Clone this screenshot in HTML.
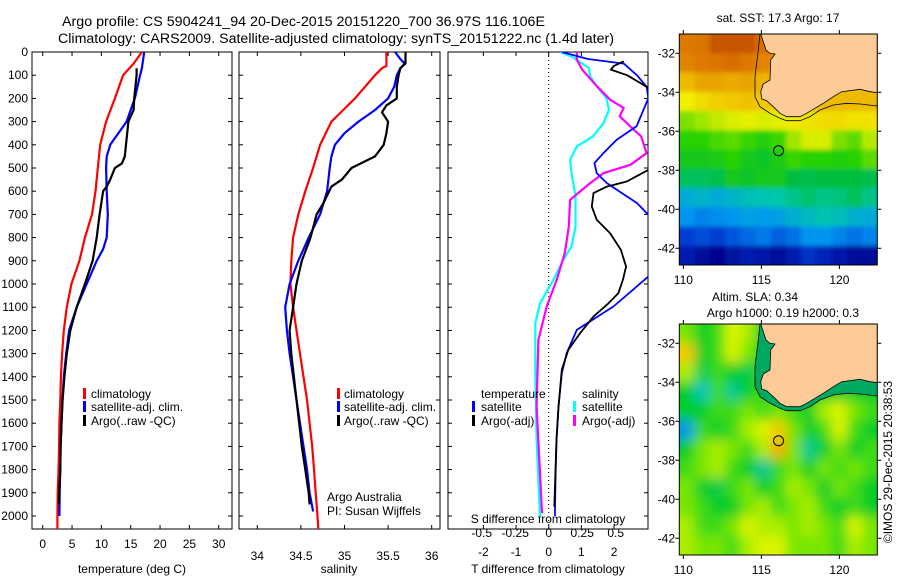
<!DOCTYPE html>
<html><head><meta charset="utf-8">
<style>
body{margin:0;background:#fff;}
svg{display:block;font-family:"Liberation Sans",sans-serif;}
text{fill:#000;}
</style></head>
<body>
<svg id="fig" width="900" height="580" viewBox="0 0 900 580" xmlns="http://www.w3.org/2000/svg">
<defs>
<filter id="blurS" x="-10%" y="-10%" width="120%" height="120%"><feGaussianBlur stdDeviation="2.5"/></filter>
<filter id="blurL" x="-10%" y="-10%" width="120%" height="120%"><feGaussianBlur stdDeviation="6"/></filter>
</defs>
<text x="62" y="26" font-size="13.5" textLength="483" lengthAdjust="spacingAndGlyphs">Argo profile: CS 5904241_94 20-Dec-2015 20151220_700 36.97S 116.106E</text>
<text x="58" y="43" font-size="13.5" textLength="556" lengthAdjust="spacingAndGlyphs">Climatology: CARS2009. Satellite-adjusted climatology: synTS_20151222.nc (1.4d later)</text>
<g id="g"></g>
</svg>
<script>
// ---------- data ----------
const tClimDepth=[0,50,100,200,300,400,500,600,700,800,900,1000,1100,1200,1300,1400,1500,1600,1700,1800,1900,2000,2056];
const tClim=[16.9,15.5,13.7,12.3,10.8,9.8,9.4,9.0,8.4,7.2,6.25,4.9,4.1,3.6,3.3,3.1,3.0,2.85,2.8,2.7,2.55,2.5,2.5];
const tSatDepth=[0,70,100,200,300,400,450,500,600,700,800,850,900,1000,1100,1200,1300,1400,1500,1600,1700,1800,1900,2000];
const tSat=[17.3,16.9,16.6,15.7,14.3,11.5,10.9,10.8,10.9,11.1,10.9,10.3,9.2,7.5,5.8,4.5,4.0,3.6,3.35,3.2,3.05,3.0,2.9,2.85];
const tArgoDepth=[70,100,200,250,300,400,450,480,500,550,580,600,700,800,900,1000,1100,1200,1300,1400,1500,1600,1700,1800,1900,1950];
const tArgo=[16.0,16.0,15.6,15.5,14.6,14.2,14.0,13.5,12.3,11.5,10.9,10.3,9.7,9.2,8.5,7.2,5.8,4.7,4.1,3.7,3.4,3.2,3.05,3.0,2.8,2.75];

const sClimDepth=[0,60,70,100,200,300,400,500,600,700,800,900,1000,1100,1200,1300,1400,1500,1600,1700,1800,1900,2000,2056];
const sClim=[35.48,35.48,35.43,35.35,35.12,34.85,34.72,34.64,34.55,34.47,34.41,34.39,34.38,34.41,34.45,34.49,34.53,34.57,34.6,34.63,34.65,34.67,34.69,34.7];
const sSatDepth=[0,30,50,70,100,150,200,250,300,350,400,450,500,600,700,800,900,1000,1100,1200,1300,1400,1500,1600,1700,1800,1900,1980];
const sSat=[35.58,35.64,35.69,35.64,35.6,35.57,35.5,35.35,35.16,35.0,34.89,34.85,34.83,34.8,34.72,34.59,34.47,34.37,34.32,34.34,34.37,34.41,34.45,34.49,34.53,34.57,34.6,34.64];
const sArgoDepth=[0,50,70,100,150,200,230,260,300,350,400,450,500,550,580,650,700,800,900,1000,1100,1200,1300,1400,1500,1600,1700,1800,1900,1950];
const sArgo=[35.7,35.7,35.64,35.62,35.6,35.6,35.48,35.43,35.5,35.48,35.45,35.35,35.08,34.97,34.85,34.76,34.68,34.61,34.51,34.45,34.41,34.37,34.39,34.42,34.45,34.48,34.51,34.55,34.59,34.6];

const dTSatDepth=[0,30,50,100,150,200,250,320,378,436,479,522,565,608,651,709,800,900,968,1097,1198,1298,1385,1529,1672,1816,2000];
const dTSat=[0.4,1.2,2.3,2.7,3.0,3.05,2.9,2.69,2.08,1.67,1.4,1.47,1.78,2.24,2.7,3.1,3.7,3.3,3.05,1.98,0.86,0.55,0.4,0.3,0.24,0.21,0.19];
const dTArgoDepth=[40,60,76,100,150,170,300,508,558,580,608,666,723,781,853,925,982,1040,1083,1140,1212,1284,1370,1529,1672,1960];
const dTArgo=[2.3,2.0,1.9,2.4,3.0,3.1,3.6,3.05,2.39,1.78,1.37,1.32,1.47,1.88,2.21,2.37,2.27,2.13,1.83,1.37,0.96,0.6,0.4,0.3,0.24,0.17];
const dSSatDepth=[0,19,69,105,148,198,249,306,364,407,464,522,623,752,838,896,982,1083,1169,1385,1672,2003];
const dSSat=[0.085,0.17,0.3,0.31,0.36,0.43,0.45,0.41,0.33,0.21,0.16,0.17,0.2,0.2,0.17,0.11,0.035,-0.065,-0.1,-0.1,-0.09,-0.065];
const dSArgoDepth=[0,33,76,148,206,241,277,321,364,436,486,522,565,637,752,867,982,1097,1241,1528,1816,1988];
const dSArgo=[0.21,0.21,0.25,0.36,0.46,0.56,0.53,0.61,0.69,0.73,0.61,0.41,0.31,0.16,0.15,0.12,0.06,-0.015,-0.077,-0.09,-0.065,-0.05];

const depthTicks=[0,100,200,300,400,500,600,700,800,900,1000,1100,1200,1300,1400,1500,1600,1700,1800,1900,2000];
const tTicks=[0,5,10,15,20,25,30];
const sTicks=[34,34.5,35,35.5,36];
const dTTicks=[-2,-1,0,1,2];
const dSTicks=[-0.5,-0.25,0,0.25,0.5];
const lonTicks=[110,115,120];
const latTicks=[-32,-34,-36,-38,-40,-42];

const sstGrid=[
[20.5,20.6,21,21,21,20.7,20,20,20,20,20,20,20],
[20.3,20.5,20.6,20.7,20.5,20.3,20,20,20,20,20,20,20],
[19.5,19.8,19.8,19.7,19.8,19.6,19.5,19.5,19.5,19.5,19.5,19.5,19.5],
[18.7,19,19.2,19.3,19.4,19.3,19.2,19.2,19.3,19.5,19.5,19.5,19.5],
[17.8,18,18.3,18.5,18.6,18.5,18.6,18.8,18.9,19,19,18.9,18.9],
[17.3,17.3,17.5,17.6,17.4,17.2,17.4,18,18.5,18.5,17.8,17.6,18.2],
[17,17,17.1,17.3,17,16.9,17.1,17.4,17.3,17.3,17.2,17.3,17.6],
[16.5,16.5,16.6,17,16.9,17,17,16.7,16.6,16.7,16.7,16.7,16.6],
[15.4,15.6,15.4,15.6,15.8,15.9,16,16.2,16.4,16.2,16.3,16.5,16.2],
[15,14.8,14.9,15,15.2,15.1,15.2,15.5,15.7,15.9,15.8,15.5,15.4],
[14,14.2,14,14.3,14.5,14.7,14.4,14.6,15,15,14.8,14.6,14.8],
[13.5,13.2,13.1,13.3,13.5,13.4,13.2,13.5,13.8,13.6,13.4,13.2,13.2]];
const slaGrid=[
[0.1,0,0.05,0.2,0.15,0,0,0,0,0,0,0,0],
[0.3,0,0.05,0.2,0.1,0.02,0,0,0,0,0,0,0],
[0.15,-0.05,0.05,0,-0.05,0.05,0.05,0,0,0,0,0,0],
[0,-0.2,0.05,-0.15,0,0.05,0,0.05,0,0,0,0,0],
[0,0,0.05,0.05,0.1,0.05,0.1,0.05,0,0.15,0.2,0.1,0.05],
[-0.3,0.05,0,0.05,0.15,0.2,0.3,0.1,0,0.05,0.2,0.05,0],
[0,0.1,0.15,0.1,0.05,0.15,0.34,0.1,-0.15,0,0.1,0,0.05],
[0.05,0.1,0.15,0.05,0,-0.15,0.05,0.1,0,0.1,0.05,0.1,0.05],
[0.1,0,-0.05,0.05,0.1,0,0.05,0.15,0.1,0,0.1,0.05,0],
[0.1,0.05,0,0,0.1,0.15,0.05,0.1,0.15,0.05,0,0.05,0],
[0.15,0.05,0.05,0.1,0.2,0.15,0.15,0.1,0.15,0.1,0.05,0.2,0.1],
[0.15,0.1,0.1,0.05,0.15,0.2,0.2,0.1,0.1,0.1,0.05,0.15,0.1]];
const argoLon=116.1, argoLat=-37.0;

// ---------- helpers ----------
const NS="http://www.w3.org/2000/svg";
const G=document.getElementById('g');
function mk(tag,attrs,parent){const e=document.createElementNS(NS,tag);for(const k in attrs)e.setAttribute(k,attrs[k]);(parent||G).appendChild(e);return e;}
function txt(x,y,s,size,anchor,name,parent){const e=mk('text',{x:x,y:y,'font-size':size,'text-anchor':anchor||'middle'},parent);e.textContent=s;


return e;}
const Y0=52, YS=0.232;
const yD=d=>Y0+YS*d;
const xT=t=>42.7+5.867*t;
const xS=s=>257.3+87.2*(s-34);
const xdT=t=>548.7+32.67*t;
const xdS=s=>548.7+134*s;
const PB=529;

function clip(id,x0,x1){const cp=mk('clipPath',{id:id});mk('rect',{x:x0,y:Y0,width:x1-x0,height:PB-Y0},cp);}
function line(xs,ds,fx,color,w,name,cid){
  const pts=xs.map((v,i)=>fx(v).toFixed(1)+','+yD(ds[i]).toFixed(1)).join(' ');
  const e=mk('polyline',{points:pts,fill:'none',stroke:color,'stroke-width':w,'stroke-linejoin':'round','clip-path':'url(#'+cid+')'});
  
  
}
function frame(x0,x1,name){const r=mk('rect',{x:x0,y:Y0,width:x1-x0,height:PB-Y0,fill:'none',stroke:'#000','stroke-width':1});


depthTicks.forEach(d=>{mk('line',{x1:x0,x2:x0+4,y1:yD(d),y2:yD(d),stroke:'#000'});mk('line',{x1:x1,x2:x1-4,y1:yD(d),y2:yD(d),stroke:'#000'});});}
function xticks(vals,fx,ylab,name,x0,x1,labels){vals.forEach(v=>{const x=fx(v);if(x<x0||x>x1)return;mk('line',{x1:x,x2:x,y1:PB,y2:PB-4,stroke:'#000'});mk('line',{x1:x,x2:x,y1:Y0,y2:Y0+4,stroke:'#000'});if(labels!==false)txt(x,ylab,String(v),12,'middle',name);});}
function legendBar(x,y,color,name){const e=mk('rect',{x:x,y:y-10,width:3,height:11,fill:color});

}

// ---------- panel 1 ----------
clip('c1',32,232);
frame(32,232,'temperature-panel-frame');
depthTicks.forEach(d=>txt(28,yD(d)+4,String(d),12,'end','depth-tick-label'));
xticks(tTicks,xT,548,'temperature-tick-label',32,232);
txt(132,573,'temperature (deg C)',12,'middle','temperature-axis-title');
line(tClim,tClimDepth,xT,'#f00',2.2,'temperature-climatology-line','c1');
line(tSat,tSatDepth,xT,'#00f',2.2,'temperature-satellite-line','c1');
line(tArgo,tArgoDepth,xT,'#000',2.2,'temperature-argo-line','c1');
legendBar(83,398,'#f00','legend-climatology-marker');txt(91,398,'climatology',12,'start','legend-climatology');
legendBar(83,411,'#00f','legend-satellite-marker');txt(91,411,'satellite-adj. clim.',12,'start','legend-satellite-adj');
legendBar(83,425,'#000','legend-argo-marker');txt(91,425,'Argo(..raw -QC)',12,'start','legend-argo');

// ---------- panel 2 ----------
clip('c2',239,440);
frame(239,440,'salinity-panel-frame');
xticks(sTicks,xS,560,'salinity-tick-label',239,440);
txt(339,573,'salinity',12,'middle','salinity-axis-title');
line(sClim,sClimDepth,xS,'#f00',2.2,'salinity-climatology-line','c2');
line(sSat,sSatDepth,xS,'#00f',2.2,'salinity-satellite-line','c2');
line(sArgo,sArgoDepth,xS,'#000',2.2,'salinity-argo-line','c2');
legendBar(337,398,'#f00','legend2-climatology-marker');txt(344,398,'climatology',12,'start','legend2-climatology');
legendBar(337,411,'#00f','legend2-satellite-marker');txt(344,411,'satellite-adj. clim.',12,'start','legend2-satellite-adj');
legendBar(337,425,'#000','legend2-argo-marker');txt(344,425,'Argo(..raw -QC)',12,'start','legend2-argo');
txt(327,501,'Argo Australia',12,'start','credit-argo-australia');
txt(327,515,'PI: Susan Wijffels',12,'start','credit-pi');

// ---------- panel 3 ----------
clip('c3',448,648);
frame(448,648,'difference-panel-frame');
mk('line',{x1:xdT(0),x2:xdT(0),y1:Y0,y2:PB,stroke:'#000','stroke-dasharray':'1,3','stroke-width':1});
xticks(dTTicks,xdT,556,'t-difference-tick-label',448,648);
txt(548,573,'T difference from climatology',12,'middle','t-difference-axis-title');
dSTicks.forEach(v=>txt(xdS(v),537,String(v),12,'middle','s-difference-tick-label'));
txt(548,523,'S difference from climatology',12,'middle','s-difference-axis-title');
line(dSSat,dSSatDepth,xdS,'#0ff',2.2,'salinity-satellite-difference-line','c3');
line(dSArgo,dSArgoDepth,xdS,'#f0f',2.2,'salinity-argo-difference-line','c3');
line(dTSat,dTSatDepth,xdT,'#00f',1.8,'temperature-satellite-difference-line','c3');
line(dTArgo,dTArgoDepth,xdT,'#000',1.8,'temperature-argo-difference-line','c3');
txt(481,398,'temperature',12,'start','legend3-temperature-heading');
legendBar(472,411,'#00f','legend3-t-satellite-marker');txt(481,411,'satellite',12,'start','legend3-t-satellite');
legendBar(472,425,'#000','legend3-t-argo-marker');txt(481,425,'Argo(-adj)',12,'start','legend3-t-argo');
txt(582,398,'salinity',12,'start','legend3-salinity-heading');
legendBar(573,411,'#0ff','legend3-s-satellite-marker');txt(582,411,'satellite',12,'start','legend3-s-satellite');
legendBar(573,425,'#f0f','legend3-s-argo-marker');txt(582,425,'Argo(-adj)',12,'start','legend3-s-argo');

// ---------- maps ----------
const MX0=679.3, MX1=877.3, LON0=109.74, LONW=(MX1-MX0)/12.69;
const mxL=l=>MX0+(l-LON0)*LONW;
function cmapInterp(stops,v){if(v<=stops[0][0])return stops[0][1];for(let i=1;i<stops.length;i++){if(v<=stops[i][0]){const a=stops[i-1],b=stops[i],f=(v-a[0])/(b[0]-a[0]);return a[1].map((x,k)=>Math.round(x+(b[1][k]-x)*f));}}return stops[stops.length-1][1];}
const sstStops=[[13,[0,0,140]],[14,[0,60,210]],[15,[0,150,240]],[16,[0,200,170]],[16.7,[0,190,60]],[17.3,[40,210,0]],[18,[160,230,0]],[18.7,[240,240,0]],[19.3,[240,200,0]],[20,[232,150,0]],[20.7,[216,110,0]],[21,[200,85,0]]];
const slaStops=[[-0.3,[0,150,230]],[-0.2,[0,200,190]],[-0.1,[0,200,110]],[0,[0,205,40]],[0.1,[120,230,0]],[0.2,[220,245,0]],[0.3,[245,200,0]],[0.34,[245,170,0]]];
const coast=[[302,102],[318,150],[330,160],[345,162],[332,180],[330,240],[310,252],[302,275],[305,297],[320,302],[340,320],[360,340],[380,350],[420,350],[440,340],[460,328],[490,310],[520,290],[545,275],[600,268],[630,275],[652,278],[652,102]];
const shelf=[[300,102],[295,150],[285,230],[285,290],[300,320],[330,340],[360,355],[380,362],[420,362],[450,350],[480,330],[520,315],[560,310],[600,312],[652,318]];
let mapId=0;
function drawMap(top,grid,stops,name,shelfFill,blurId){
  mapId++;
  const latY=la=>top+19.25+(-32-la)*19.5;
  const cp=mk('clipPath',{id:'mc'+mapId});mk('rect',{x:MX0,y:top,width:MX1-MX0,height:231},cp);
  const grp=mk('g',{'clip-path':'url(#mc'+mapId+')'});
  
  
  const cells=mk('g',{filter:'url(#'+blurId+')'},grp);
  const cw=(MX1-MX0)/13, ch=231/12, ext=14;
  const nr=grid.length, nc=grid[0].length;
  grid.forEach((row,r)=>row.forEach((v,c)=>{const col=cmapInterp(stops,v);
    let x=MX0+c*cw, y=top+r*ch, w=cw+0.5, h=ch+0.5;
    if(c===0){x-=ext;w+=ext;} if(c===nc-1){w+=ext;}
    if(r===0){y-=ext;h+=ext;} if(r===nr-1){h+=ext;}
    const cell=mk('rect',{x:x.toFixed(1),y:y.toFixed(1),width:w.toFixed(1),height:h.toFixed(1),fill:'rgb('+col.join(',')+')'},cells);
    
    }));
  const pm=p=>(660+p[0]/3).toFixed(1)+','+(top-34+p[1]/3).toFixed(1);
  if(shelfFill){mk('polygon',{points:shelf.map(pm).join(' ')+' '+pm([652,102]),fill:shelfFill},grp);}
  const land=mk('polygon',{points:coast.map(pm).join(' '),fill:'#fccb98',stroke:'#000','stroke-width':0.8},grp);
  
  
  mk('polyline',{points:shelf.map(pm).join(' '),fill:'none',stroke:'#000','stroke-width':0.8},grp);
  const ci=mk('circle',{cx:mxL(argoLon),cy:latY(argoLat),r:5,fill:'none',stroke:'#000','stroke-width':1});
  
  
  mk('rect',{x:MX0,y:top,width:MX1-MX0,height:231,fill:'none',stroke:'#000'});
  lonTicks.forEach(l=>{const x=mxL(l);mk('line',{x1:x,x2:x,y1:top,y2:top-4,stroke:'#000'});mk('line',{x1:x,x2:x,y1:top+231,y2:top+235,stroke:'#000'});txt(x,top+250,String(l),12,'middle','longitude-tick-label');});
  latTicks.forEach(la=>{const y=latY(la);mk('line',{x1:MX0,x2:MX0-4,y1:y,y2:y,stroke:'#000'});mk('line',{x1:MX1,x2:MX1+4,y1:y,y2:y,stroke:'#000'});txt(675,y+4,String(la),12,'end','latitude-tick-label');});
}
drawMap(34,sstGrid,sstStops,'sst-map',null,'blurS');
drawMap(324,slaGrid,slaStops,'sla-map','#00a860','blurL');
txt(778,22,'sat. SST: 17.3 Argo: 17',12,'middle','sst-map-title');
txt(755,301,'Altim. SLA: 0.34',12,'middle','sla-map-title');
txt(783,317,'Argo h1000: 0.19 h2000: 0.3',12,'middle','sla-map-subtitle');
const im=txt(0,0,'©IMOS 29-Dec-2015 20:38:53',12,'middle','imos-timestamp');
im.setAttribute('transform','translate(892,462) rotate(-90)');
</script>
</body></html>
